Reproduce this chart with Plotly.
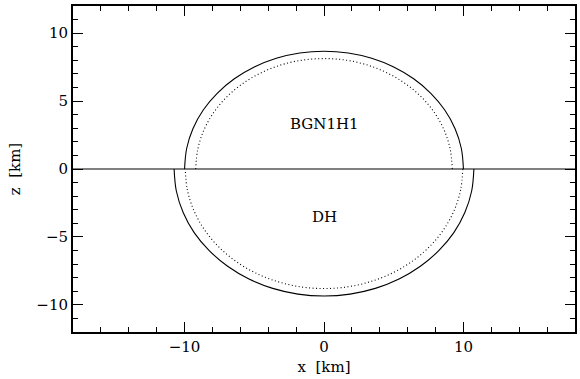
import plotly.graph_objects as go

# Quadrant points (x >= 0), angle 0..90 deg
up_solid_x = [10.00, 9.85, 9.40, 8.66, 7.66, 6.43, 5.00, 3.42, 1.74, 0.0]
up_solid_z = [0.0, 1.51, 2.97, 4.34, 5.57, 6.64, 7.51, 8.15, 8.54, 8.67]
up_dot_x = [9.20, 9.06, 8.65, 7.97, 7.05, 5.91, 4.60, 3.15, 1.60, 0.0]
up_dot_z = [0.0, 1.41, 2.78, 4.07, 5.23, 6.23, 7.04, 7.64, 8.01, 8.13]
lo_solid_x = [10.75, 10.59, 10.10, 9.31, 8.23, 6.91, 5.38, 3.68, 1.87, 0.0]
lo_solid_z = [0.0, -1.62, -3.20, -4.68, -6.01, -7.16, -8.10, -8.79, -9.21, -9.35]
lo_dot_x = [9.95, 9.80, 9.35, 8.62, 7.62, 6.40, 4.98, 3.40, 1.73, 0.0]
lo_dot_z = [0.0, -1.53, -3.01, -4.40, -5.66, -6.74, -7.62, -8.27, -8.67, -8.80]

labels = ["BGN1H1", "DH"]
label_x = [0.0, 0.0]
label_z = [3.3, -3.5]

FONT = "DejaVu Serif"


def full(xq, zq):
    xs = list(xq) + [-v for v in reversed(xq[:-1])]
    zs = list(zq) + list(reversed(zq[:-1]))
    return xs, zs


fig = go.Figure()
for xq, zq, dash in [(up_solid_x, up_solid_z, "solid"), (up_dot_x, up_dot_z, "1px,2.5px"),
                     (lo_solid_x, lo_solid_z, "solid"), (lo_dot_x, lo_dot_z, "1px,2.5px")]:
    xs, zs = full(xq, zq)
    fig.add_trace(go.Scatter(x=xs, y=zs, mode="lines",
                             line=dict(color="black", width=1.1, dash=dash, shape="spline"),
                             showlegend=False, hoverinfo="skip"))

for t, x, z in zip(labels, label_x, label_z):
    fig.add_annotation(x=x, y=z, text=t, showarrow=False,
                       font=dict(family=FONT, size=15, color="black"))

axis_common = dict(showgrid=False, showline=True, linecolor="black", linewidth=2,
                   mirror="ticks", ticks="inside", tickcolor="black", tickwidth=1,
                   ticklen=10, tickfont=dict(family=FONT, size=15, color="black"))

fig.update_xaxes(range=[-18, 18], dtick=10, zeroline=False,
                 minor=dict(dtick=2, ticks="inside", ticklen=5, tickcolor="black", tickwidth=1),
                 title=dict(text="x\u00a0\u00a0[km]", font=dict(family=FONT, size=15, color="black"), standoff=6),
                 **axis_common)
fig.update_yaxes(range=[-12, 12], dtick=5, zeroline=True, zerolinecolor="#808080", zerolinewidth=1.5,
                 minor=dict(dtick=1, ticks="inside", ticklen=5, tickcolor="black", tickwidth=1),
                 title=dict(text="z\u00a0\u00a0[km]", font=dict(family=FONT, size=15, color="black"), standoff=12),
                 **axis_common)

fig.update_layout(width=580, height=379, margin=dict(l=73, r=3, t=6, b=47),
                  plot_bgcolor="white", paper_bgcolor="white")
fig.write_html("out.html")
